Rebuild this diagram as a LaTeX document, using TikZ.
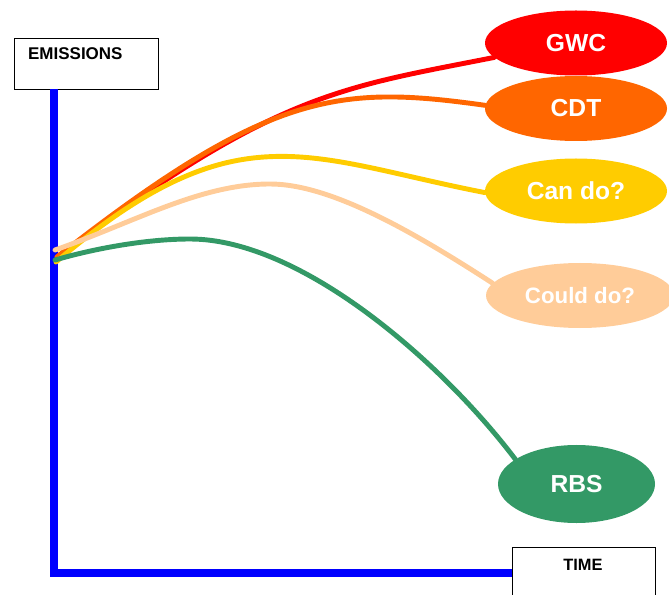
\documentclass[tikz,border=0pt]{standalone}
\usepackage{fontspec}
\setmainfont{Liberation Sans}
\usetikzlibrary{shapes.geometric}
\definecolor{gwcred}{HTML}{FF0000}
\definecolor{cdtorange}{HTML}{FF6600}
\definecolor{canyellow}{HTML}{FFCC00}
\definecolor{couldpeach}{HTML}{FFCC99}
\definecolor{rbsgreen}{HTML}{339966}
\begin{document}
\begin{tikzpicture}[x=0.03cm,y=-0.03cm,
    axis/.style={line width=6.8pt,color=blue},
    path/.style={line width=4.2pt,line cap=round},
    blob/.style={ellipse,inner sep=0pt,minimum width=5.46cm,minimum height=1.95cm,
      text=white,font=\fontsize{21}{24}\selectfont\bfseries},
    labelbox/.style={draw=black,line width=0.6pt,fill=white,minimum width=4.32cm}]
    \useasboundingbox (0,0) rectangle (669,595);
    % boxes for the axes
    \node[labelbox,minimum height=1.53cm] (emis) at (86,63.5) {};
    \node[anchor=base west,font=\fontsize{14.5}{17}\selectfont\bfseries] (emistxt) at (24,60) {EMISSIONS};
    \node[labelbox,minimum width=4.29cm,minimum height=1.6cm,anchor=north west] (time) at (512,547) {};
    \node[anchor=base,font=\fontsize{14}{16}\selectfont\bfseries] (timetxt) at (583,570) {TIME};
    \coordinate (ytop) at (54,89);
    \coordinate (orig) at (54,573);
    \draw[axis] (ytop) -- (orig) -- (time.west |- orig);
    % the scenarios
    \node[blob,fill=gwcred] (gwc) at (576,43) {GWC};
    \node[blob,fill=cdtorange] (cdt) at (576,108.5) {CDT};
    \node[blob,fill=canyellow] (can) at (576,191) {Can do?};
    \node[blob,fill=couldpeach,minimum width=5.64cm,font=\fontsize{19}{22}\selectfont\bfseries] (could) at (580,295.5) {Could do?};
    \node[blob,fill=rbsgreen,minimum width=4.71cm,minimum height=2.34cm] (rbs) at (576.5,484) {RBS};
    \coordinate (sred) at (57,257);
    \coordinate (sorange) at (57,257);
    \coordinate (syellow) at (56,262);
    \coordinate (speach) at (55,250);
    \coordinate (sgreen) at (55,260);
    \coordinate (tpeach) at (270,184);
    \coordinate (tgreen) at (190,239);
    \draw[path,gwcred] (sred) .. controls (277,92) and (340,88) .. (gwc.190);
    \draw[path,cdtorange] (sorange) .. controls (270,90) and (340,85) .. (cdt.178);
    \draw[path,canyellow] (syellow) .. controls (237,108) and (307,158) .. (can.181);
    \draw[path,couldpeach] (speach) .. controls (135,222) and (200,184) .. (tpeach)
      .. controls (330,184) and (412,231) .. (could.172);
    \draw[path,rbsgreen] (sgreen) .. controls (100,247) and (150,239) .. (tgreen)
      .. controls (300,239) and (440,360) .. (rbs.158);
\end{tikzpicture}
\end{document}
